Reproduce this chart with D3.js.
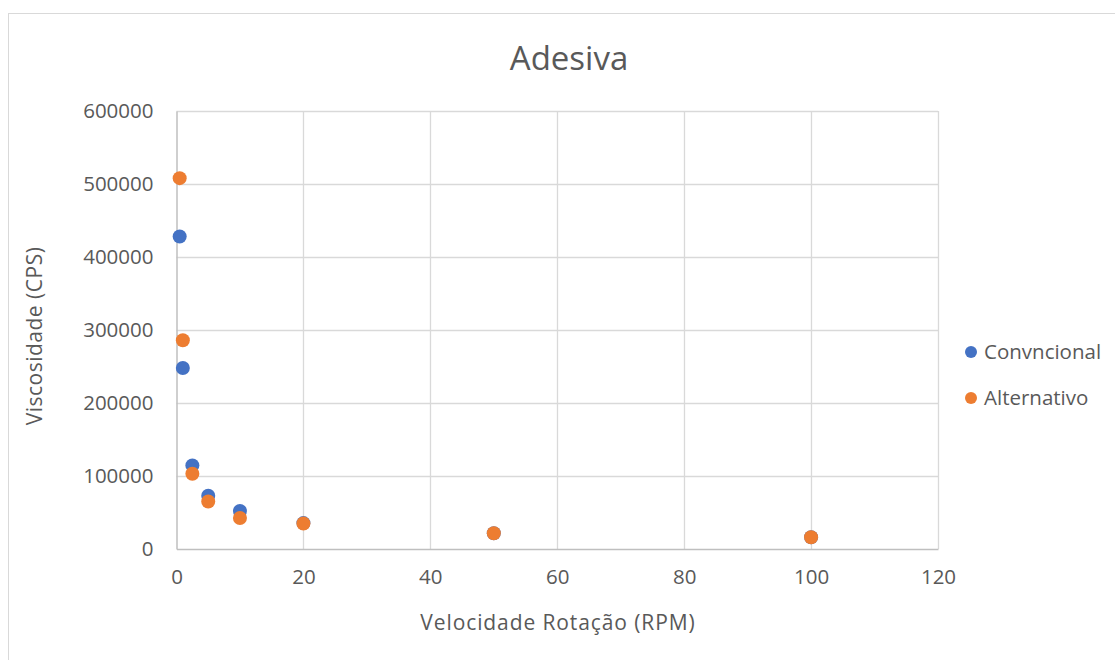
<!DOCTYPE html>
<html>
<head>
<meta charset="utf-8">
<script src="https://cdn.jsdelivr.net/npm/d3@7"></script>
<style>
  html, body { margin: 0; padding: 0; background: #fff; }
  svg text { font-family: "Open Sans", "Liberation Sans", sans-serif; fill: #595959; }
</style>
</head>
<body>
<svg id="chart" width="1115" height="660"></svg>
<script>
// Rotational speed (RPM) of each reading
const rpm = [0.5, 1, 2.5, 5, 10, 20, 50, 100];
// Viscosity (cP) for each formulation
const convencional = [428000, 248000, 114500, 73000, 52000, 35500, 21500, 16000];
const alternativo  = [508000, 286000, 103000, 65000, 42500, 35000, 21500, 16000];
const seriesNames = ["Convncional", "Alternativo"];
const seriesColors = ["#4472C4", "#ED7D31"];
const xTicks = [0, 20, 40, 60, 80, 100, 120];
const yTicks = [0, 100000, 200000, 300000, 400000, 500000, 600000];

const svg = d3.select("#chart");

// outer chart frame
svg.append("rect")
  .attr("x", 8.5).attr("y", 13.5)
  .attr("width", 1200).attr("height", 700)
  .attr("fill", "none").attr("stroke", "#d9d9d9").attr("stroke-width", 1);

const plot = { left: 176.5, right: 938, top: 111, bottom: 549 };

const x = d3.scaleLinear().domain([0, 120]).range([plot.left, plot.right]);
const y = d3.scaleLinear().domain([0, 600000]).range([plot.bottom, plot.top]);

// gridlines
const grid = svg.append("g");
grid.selectAll("line.h").data(yTicks.slice(1)).join("line")
  .attr("x1", plot.left).attr("x2", plot.right)
  .attr("y1", d => Math.round(y(d)) + 0.5).attr("y2", d => Math.round(y(d)) + 0.5)
  .attr("stroke", "#d9d9d9").attr("stroke-width", 1.3);
grid.selectAll("line.v").data(xTicks.slice(1)).join("line")
  .attr("y1", plot.top).attr("y2", plot.bottom)
  .attr("x1", d => Math.round(x(d)) + 0.5).attr("x2", d => Math.round(x(d)) + 0.5)
  .attr("stroke", "#d9d9d9").attr("stroke-width", 1.3);

// axes
const xAxis = d3.axisBottom(x).tickValues(xTicks).tickSize(0).tickPadding(20);
const yAxis = d3.axisLeft(y).tickValues(yTicks).tickSize(0).tickPadding(23).tickFormat(d3.format("d"));

const gx = svg.append("g").attr("transform", `translate(0,${plot.bottom})`).call(xAxis);
const gy = svg.append("g").attr("transform", `translate(${plot.left},0)`).call(yAxis);
[gx, gy].forEach(g => {
  g.select(".domain").attr("stroke", "#bfbfbf").attr("stroke-width", 1.5);
  g.selectAll("text").style("font-size", "20.5px").attr("fill", "#595959");
});

// markers
const series = [convencional, alternativo];
series.forEach((vals, i) => {
  svg.append("g").selectAll("circle")
    .data(rpm.map((r, k) => [r, vals[k]]))
    .join("circle")
    .attr("cx", d => x(d[0]))
    .attr("cy", d => y(d[1]))
    .attr("r", 7)
    .attr("fill", seriesColors[i]);
});

// title
svg.append("text")
  .attr("x", 569).attr("y", 70)
  .attr("text-anchor", "middle")
  .style("font-size", "33px")
  .text("Adesiva");

// axis titles
svg.append("text")
  .attr("x", 558).attr("y", 630)
  .attr("text-anchor", "middle")
  .style("font-size", "21px")
  .style("letter-spacing", "0.9px")
  .text("Velocidade Rotação (RPM)");

svg.append("text")
  .attr("transform", `translate(42,${(plot.top + plot.bottom) / 2 + 6}) rotate(-90)`)
  .attr("text-anchor", "middle")
  .style("font-size", "21px")
  .style("letter-spacing", "0.5px")
  .text("Viscosidade (CPS)");

// legend
const legend = svg.append("g");
seriesNames.forEach((name, i) => {
  const ly = 352 + i * 46;
  legend.append("circle").attr("cx", 971).attr("cy", ly).attr("r", 6).attr("fill", seriesColors[i]);
  legend.append("text").attr("x", 984).attr("y", ly + 7)
    .style("font-size", "20.5px").text(name);
});
</script>
</body>
</html>
